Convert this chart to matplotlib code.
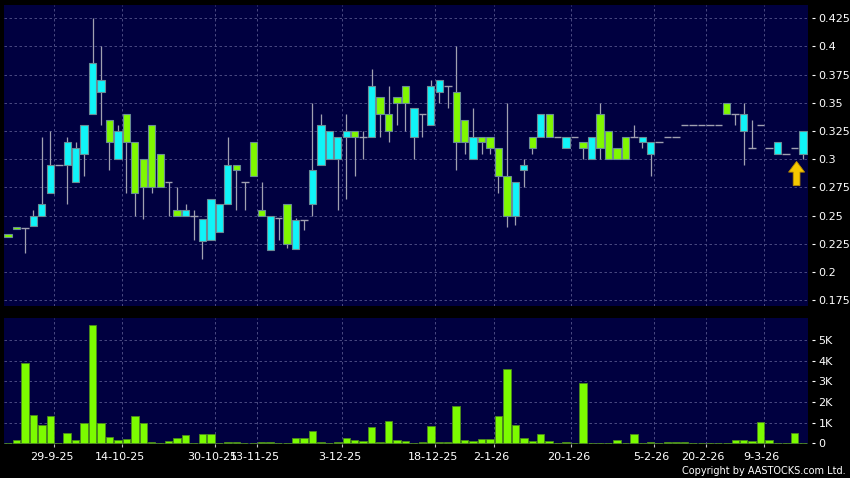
import matplotlib
matplotlib.use("Agg")
import matplotlib.pyplot as plt
import matplotlib.patches as mpatches
from matplotlib.transforms import ScaledTranslation
import numpy as np

# daily OHLC, one entry per trading session (oldest first)
opens = [0.234, 0.240, 0.239, 0.241, 0.250, 0.270, 0.295, 0.295, 0.280, 0.305,
         0.340, 0.360, 0.335, 0.300, 0.340, 0.315, 0.300, 0.330, 0.305, 0.280,
         0.255, 0.250, 0.250, 0.227, 0.228, 0.235, 0.260, 0.295, 0.280, 0.315,
         0.255, 0.219, 0.248, 0.260, 0.220, 0.246, 0.260, 0.295, 0.300, 0.300,
         0.320, 0.325, 0.320, 0.320, 0.355, 0.340, 0.355, 0.365, 0.320, 0.340,
         0.330, 0.360, 0.365, 0.360, 0.335, 0.300, 0.320, 0.320, 0.310, 0.285,
         0.250, 0.290, 0.320, 0.320, 0.340, 0.320, 0.310, 0.320, 0.315, 0.300,
         0.340, 0.325, 0.310, 0.320, 0.320, 0.315, 0.305, 0.315, 0.320, 0.320,
         0.330, 0.330, 0.330, 0.330, 0.330, 0.350, 0.340, 0.325, 0.310, 0.330,
         0.310, 0.305, 0.305, 0.310, 0.305]
highs = [0.234, 0.240, 0.239, 0.255, 0.320, 0.325, 0.295, 0.320, 0.315, 0.330,
         0.425, 0.400, 0.335, 0.330, 0.340, 0.315, 0.300, 0.330, 0.305, 0.280,
         0.275, 0.260, 0.255, 0.247, 0.265, 0.260, 0.320, 0.295, 0.280, 0.315,
         0.280, 0.250, 0.248, 0.260, 0.248, 0.246, 0.350, 0.340, 0.325, 0.320,
         0.340, 0.325, 0.325, 0.380, 0.355, 0.365, 0.355, 0.365, 0.345, 0.340,
         0.370, 0.370, 0.365, 0.400, 0.335, 0.345, 0.320, 0.320, 0.310, 0.350,
         0.280, 0.300, 0.320, 0.340, 0.340, 0.320, 0.320, 0.320, 0.315, 0.320,
         0.350, 0.325, 0.310, 0.320, 0.330, 0.320, 0.315, 0.315, 0.320, 0.320,
         0.330, 0.330, 0.330, 0.330, 0.330, 0.350, 0.340, 0.350, 0.335, 0.330,
         0.310, 0.315, 0.305, 0.310, 0.325]
lows = [0.231, 0.238, 0.217, 0.241, 0.250, 0.270, 0.295, 0.260, 0.280, 0.285,
        0.340, 0.330, 0.290, 0.300, 0.270, 0.250, 0.247, 0.270, 0.275, 0.250,
        0.250, 0.250, 0.228, 0.211, 0.228, 0.235, 0.260, 0.255, 0.255, 0.285,
        0.250, 0.219, 0.228, 0.221, 0.220, 0.237, 0.250, 0.295, 0.300, 0.255,
        0.265, 0.285, 0.300, 0.320, 0.320, 0.315, 0.330, 0.325, 0.300, 0.320,
        0.330, 0.350, 0.345, 0.290, 0.305, 0.300, 0.305, 0.305, 0.270, 0.240,
        0.242, 0.275, 0.305, 0.320, 0.320, 0.320, 0.310, 0.320, 0.300, 0.300,
        0.300, 0.300, 0.300, 0.300, 0.320, 0.310, 0.285, 0.315, 0.320, 0.320,
        0.330, 0.330, 0.330, 0.330, 0.330, 0.340, 0.330, 0.295, 0.310, 0.330,
        0.310, 0.305, 0.305, 0.310, 0.300]
closes = [0.231, 0.238, 0.239, 0.250, 0.260, 0.295, 0.295, 0.315, 0.310, 0.330,
          0.385, 0.370, 0.315, 0.325, 0.315, 0.270, 0.275, 0.275, 0.275, 0.280,
          0.250, 0.255, 0.250, 0.247, 0.265, 0.260, 0.295, 0.290, 0.280, 0.285,
          0.250, 0.250, 0.248, 0.225, 0.246, 0.246, 0.290, 0.330, 0.325, 0.320,
          0.325, 0.320, 0.320, 0.365, 0.340, 0.325, 0.350, 0.350, 0.345, 0.340,
          0.365, 0.370, 0.365, 0.315, 0.315, 0.320, 0.315, 0.310, 0.285, 0.250,
          0.280, 0.295, 0.310, 0.340, 0.320, 0.320, 0.320, 0.320, 0.310, 0.320,
          0.310, 0.300, 0.300, 0.300, 0.320, 0.320, 0.315, 0.315, 0.320, 0.320,
          0.330, 0.330, 0.330, 0.330, 0.330, 0.340, 0.340, 0.340, 0.310, 0.330,
          0.310, 0.315, 0.305, 0.310, 0.325]
# volume in thousands of shares
volumes = [0, 0.16, 3.9, 1.37, 0.89, 1.3, 0, 0.52, 0.16, 0.98,
           5.73, 0.98, 0.29, 0.18, 0.19, 1.3, 1.0, 0.05, 0, 0.1,
           0.26, 0.4, 0, 0.44, 0.44, 0, 0.05, 0.05, 0.02, 0.02,
           0.05, 0.05, 0.02, 0.03, 0.26, 0.27, 0.61, 0.06, 0.01, 0.08,
           0.26, 0.15, 0.1, 0.79, 0.05, 1.1, 0.15, 0.11, 0.02, 0.05,
           0.85, 0.05, 0.05, 1.8, 0.15, 0.1, 0.2, 0.2, 1.3, 3.6,
           0.9, 0.26, 0.1, 0.45, 0.1, 0.02, 0.06, 0, 2.9, 0.03,
           0.01, 0, 0.15, 0, 0.45, 0, 0.05, 0, 0.05, 0.05,
           0.05, 0, 0, 0.02, 0.02, 0, 0.15, 0.15, 0.13, 1.05,
           0.15, 0, 0, 0.5, 0.03]

date_ticks = [5.5, 13.5, 24.5, 29.5, 39.5, 50.5, 57.5, 66.6, 76.4, 82.5, 89.4]
date_labels = ["29-9-25", "14-10-25", "30-10-25", "13-11-25", "3-12-25", "18-12-25",
               "2-1-26", "20-1-26", "5-2-26", "20-2-26", "9-3-26"]
price_ticks = [0.175, 0.2, 0.225, 0.25, 0.275, 0.3, 0.325, 0.35, 0.375, 0.4, 0.425]
vol_ticks = [0, 1, 2, 3, 4, 5]
vol_labels = ["0", "1K", "2K", "3K", "4K", "5K"]

BG = "#000040"
UP = "#10F4F8"
DOWN = "#80F800"
EDGE = "#6a8c96"
WICK = "#a0a0b0"
GRID = "#55558c"

o = np.array(opens)
h = np.array(highs)
l = np.array(lows)
c = np.array(closes)
x = np.arange(len(o))

fig = plt.figure(figsize=(8.5, 4.78), dpi=100, facecolor="black")
ax = fig.add_axes([4 / 850, 1 - 306 / 478, 804 / 850, 301 / 478], facecolor=BG)
axv = fig.add_axes([4 / 850, 1 - 444 / 478, 804 / 850, 126 / 478], facecolor=BG, sharex=ax)

# wicks
ax.vlines(x, l, h, color=WICK, linewidth=0.9, zorder=2)
# bodies
body = o != c
cols = np.where(c > o, UP, DOWN)
ax.bar(x[body], np.abs(c - o)[body], bottom=np.minimum(o, c)[body], width=0.86,
       color=cols[body], edgecolor=EDGE, linewidth=0.8, zorder=3)
# doji
doji = ~body
ax.hlines(o[doji], x[doji] - 0.45, x[doji] + 0.45, color=WICK, linewidth=1.0, zorder=3)

# up arrow under the latest candle
last = len(x) - 1
arrow = mpatches.FancyArrow(last - 0.75, l[last] - 0.0235, 0, 0.0215, width=0.8,
                            head_width=1.9, head_length=0.0095, length_includes_head=True,
                            facecolor="#F5C800", edgecolor="#B88A00", linewidth=0.6, zorder=4)
ax.add_patch(arrow)

ax.set_ylim(0.1697, 0.4368)
ax.set_xlim(-0.47, 94.6)
ax.set_yticks(price_ticks)
ax.set_yticklabels(["%g" % p for p in price_ticks])

# volume
axv.bar(x, volumes, width=0.88, color="#7CFC00", edgecolor="#4c8a1c", linewidth=0.6, zorder=3)
axv.set_ylim(-0.03, 6.06)
axv.set_yticks(vol_ticks)
axv.set_yticklabels(vol_labels)
axv.set_xticks(date_ticks)
axv.set_xticklabels(date_labels)

for a in (ax, axv):
    a.yaxis.tick_right()
    for s in a.spines.values():
        s.set_visible(False)
    a.spines["right"].set_position(("outward", 3))
    a.grid(True, color=GRID, linestyle=(0, (3, 3)), linewidth=0.6)
    a.set_axisbelow(True)
    a.tick_params(axis="y", colors="white", length=2.5, width=0.8, pad=2, labelsize=8)
    a.tick_params(axis="x", colors="#c0c0c0", labelcolor="white", length=2.5,
                  width=0.8, pad=3, labelsize=8)

ax.tick_params(axis="x", length=0, labelbottom=False)
for lab in axv.get_xticklabels():
    lab.set_transform(lab.get_transform() + ScaledTranslation(-0.025, 0, fig.dpi_scale_trans))

fig.text(846 / 850, 1 - 471 / 478, "Copyright by AASTOCKS.com Ltd.", ha="right",
         va="center", color="white", fontsize=7)

fig.savefig("out.png", dpi=100, facecolor="black")
